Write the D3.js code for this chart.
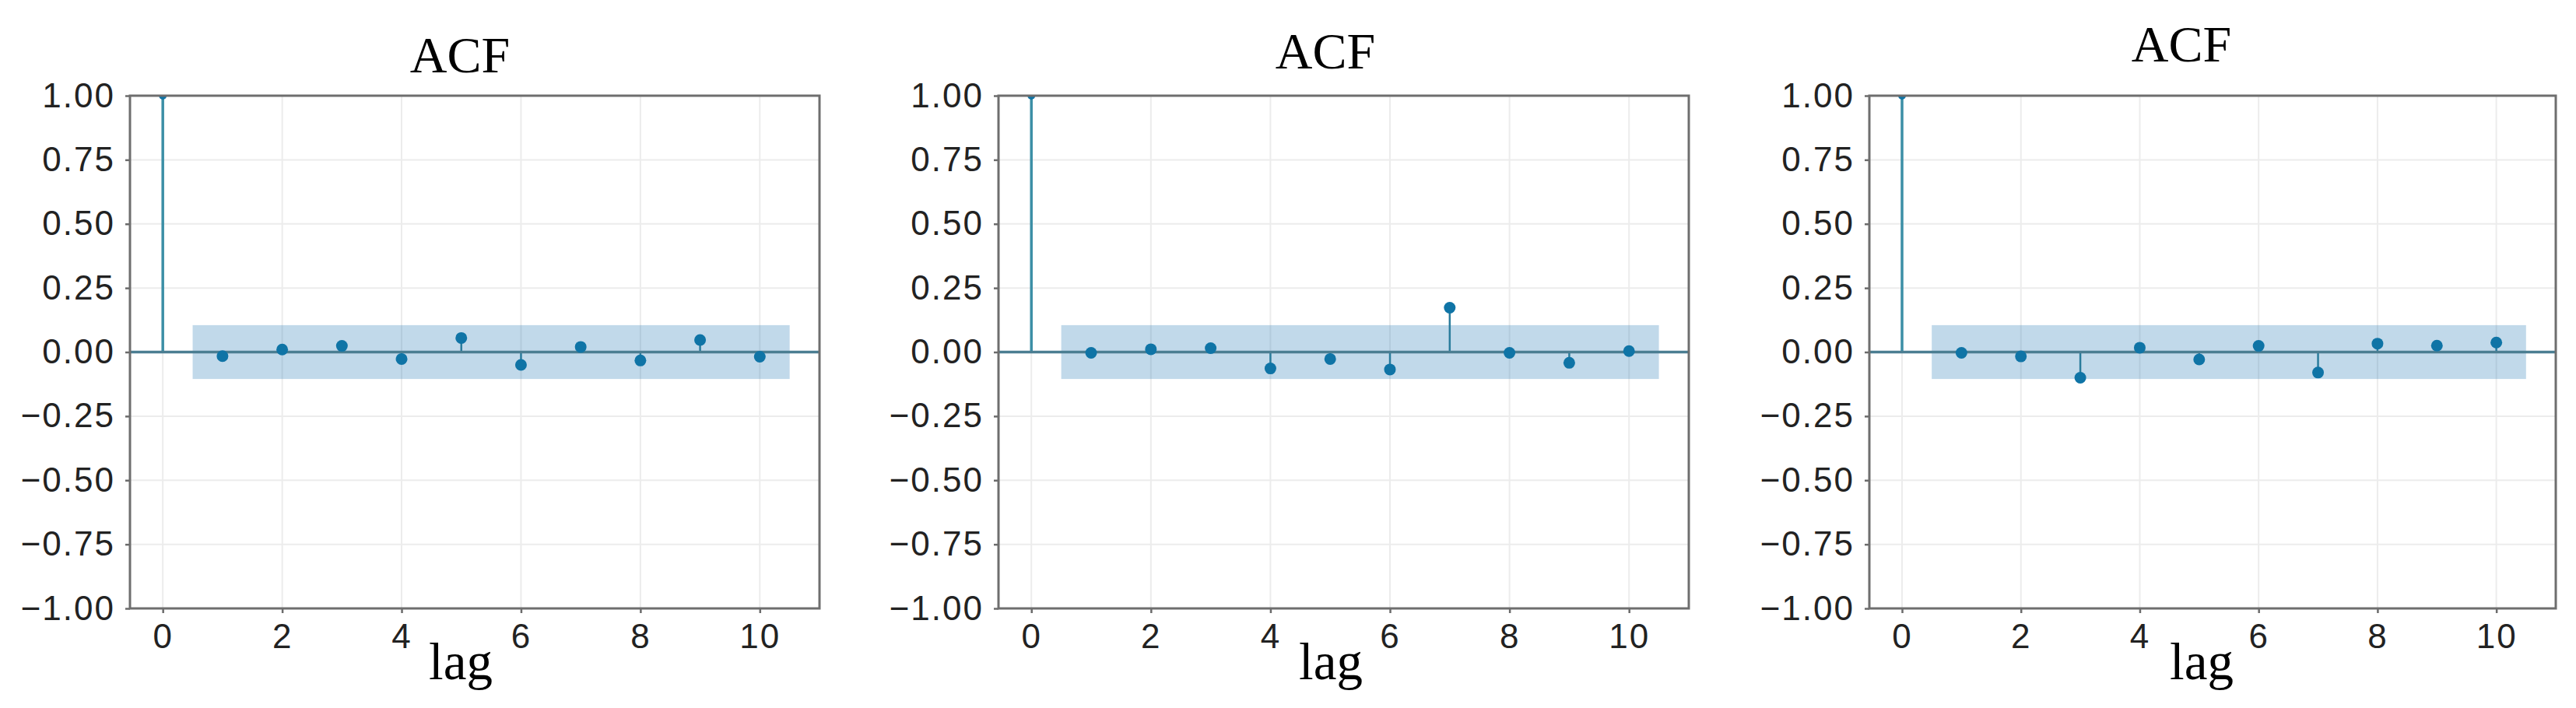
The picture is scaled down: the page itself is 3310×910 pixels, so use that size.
<!DOCTYPE html>
<html>
<head>
<meta charset="utf-8">
<script src="https://cdn.jsdelivr.net/npm/d3@7"></script>
<style>
  html, body { margin: 0; padding: 0; background: #fff; }
  svg { display: block; }
  .tick text { font-family: "Liberation Sans", Arial, sans-serif; font-size: 44px; letter-spacing: 2px; fill: #222; }
  .tick line { stroke: #6b6b6b; stroke-width: 2.5; }
  .title, .xlabel { font-family: "Liberation Serif", "Times New Roman", serif; fill: #000; }
</style>
</head>
<body>
<div id="chart"></div>
<script>
// lags shown on every panel
var lags = [0, 1, 2, 3, 4, 5, 6, 7, 8, 9, 10];

// acf values
var acf1 = [1.00, -0.016, 0.010, 0.024, -0.027, 0.055, -0.050, 0.020, -0.033, 0.047, -0.018];
var acf2 = [1.00, -0.003, 0.011, 0.015, -0.064, -0.027, -0.068, 0.173, -0.003, -0.042, 0.004];
var acf3 = [1.00, -0.003, -0.017, -0.100, 0.017, -0.029, 0.024, -0.080, 0.033, 0.025, 0.037];

// half width of the confidence band, one per panel
var confBand = [0.105, 0.105, 0.105];

var titles = ['ACF', 'ACF', 'ACF'];
var xLabel = 'lag';
var xTicks = [0, 2, 4, 6, 8, 10];
var yTicks = [-1.00, -0.75, -0.50, -0.25, 0.00, 0.25, 0.50, 0.75, 1.00];

var W = 3310, H = 910;
var plotTop = 123, plotBottom = 782;

var layout = [
    {left: 167,  right: 1053, titleX: 591,  titleY: 93, lagX: 592}
  , {left: 1283, right: 2170, titleX: 1703, titleY: 88, lagX: 1710}
  , {left: 2402, right: 3284, titleX: 2803, titleY: 79, lagX: 2829}
];

var series = [acf1, acf2, acf3];

var svg = d3.select('#chart').append('svg')
    .attr('width', W).attr('height', H)
    .attr('viewBox', '0 0 ' + W + ' ' + H);

svg.append('rect').attr('width', W).attr('height', H).attr('fill', '#fff');

layout.forEach(function(p, i){
    var values = series[i]
      , data = lags.map(function(l, j){ return {lag: l, value: values[j]}; })
      , x = d3.scaleLinear().domain([-0.55, 11.0]).range([p.left, p.right])
      , y = d3.scaleLinear().domain([-1, 1]).range([plotBottom, plotTop])
      , g = svg.append('g').classed('panel', true);

    var clipId = 'clip' + i;
    g.append('clipPath').attr('id', clipId)
      .append('rect')
        .attr('x', p.left).attr('y', plotTop)
        .attr('width', p.right - p.left).attr('height', plotBottom - plotTop);

    // grid
    g.append('g').selectAll('line')
      .data(xTicks).enter().append('line')
        .attr('x1', function(d){ return x(d); }).attr('x2', function(d){ return x(d); })
        .attr('y1', plotTop).attr('y2', plotBottom)
        .attr('stroke', '#ececec').attr('stroke-width', 2);
    g.append('g').selectAll('line')
      .data(yTicks).enter().append('line')
        .attr('x1', p.left).attr('x2', p.right)
        .attr('y1', function(d){ return y(d); }).attr('y2', function(d){ return y(d); })
        .attr('stroke', '#ececec').attr('stroke-width', 2);

    var plot = g.append('g').attr('clip-path', 'url(#' + clipId + ')');

    // confidence band
    plot.append('rect')
        .attr('x', x(0.5)).attr('width', x(10.5) - x(0.5))
        .attr('y', y(confBand[i])).attr('height', y(-confBand[i]) - y(confBand[i]))
        .attr('fill', '#1f77b4').attr('fill-opacity', 0.28);

    // stems
    plot.selectAll('line.stem')
      .data(data).enter().append('line').classed('stem', true)
        .attr('x1', function(d){ return x(d.lag); }).attr('x2', function(d){ return x(d.lag); })
        .attr('y1', y(0)).attr('y2', function(d){ return y(d.value); })
        .attr('stroke', function(d){ return d.lag === 0 ? '#3c8fa6' : '#2a7c9c'; })
        .attr('stroke-width', function(d){ return d.lag === 0 ? 3.5 : 2.5; });

    // zero line
    plot.append('line')
        .attr('x1', p.left).attr('x2', p.right)
        .attr('y1', y(0)).attr('y2', y(0))
        .attr('stroke', '#4b7e92').attr('stroke-width', 3.5);

    // markers
    plot.selectAll('circle')
      .data(data).enter().append('circle')
        .attr('cx', function(d){ return x(d.lag); })
        .attr('cy', function(d){ return y(d.value); })
        .attr('r', function(d){ return d.lag === 0 ? 5 : 7.5; })
        .attr('fill', '#0f74a6');

    // axes
    g.append('g')
        .attr('transform', 'translate(' + [p.left, 0] + ')')
        .call(d3.axisLeft(y).tickValues(yTicks).tickFormat(d3.format('.2f'))
              .tickSize(6).tickPadding(13).tickSizeOuter(0))
        .call(function(a){ a.select('.domain').remove(); });

    g.append('g')
        .attr('transform', 'translate(' + [0, plotBottom] + ')')
        .call(d3.axisBottom(x).tickValues(xTicks).tickFormat(d3.format('d'))
              .tickSize(6).tickPadding(14).tickSizeOuter(0))
        .call(function(a){ a.select('.domain').remove(); });

    // spines
    g.append('rect')
        .attr('x', p.left).attr('y', plotTop)
        .attr('width', p.right - p.left).attr('height', plotBottom - plotTop)
        .attr('fill', 'none').attr('stroke', '#6e6e6e').attr('stroke-width', 3);

    g.append('text').classed('title', true)
        .attr('x', p.titleX).attr('y', p.titleY)
        .attr('text-anchor', 'middle')
        .style('font-size', '66px')
        .text(titles[i]);

    g.append('text').classed('xlabel', true)
        .attr('x', p.lagX).attr('y', 873)
        .attr('text-anchor', 'middle')
        .style('font-size', '67px')
        .text(xLabel);
});
</script>
</body>
</html>
